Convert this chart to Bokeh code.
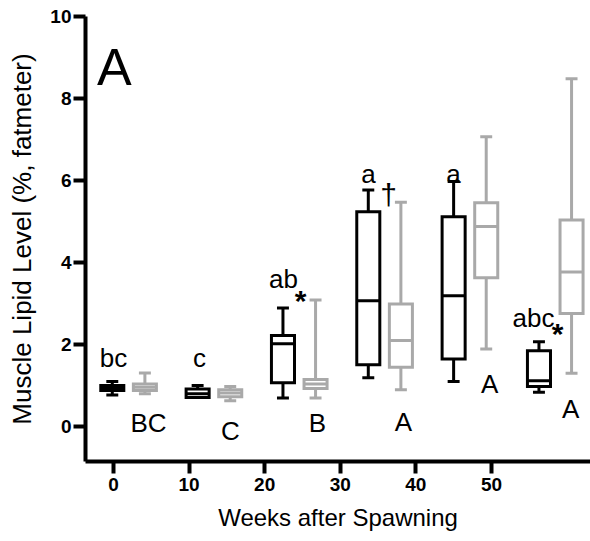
from bokeh.plotting import figure
from bokeh.models import Range1d, FixedTicker, Label, ColumnDataSource
from bokeh.core.properties import value
from bokeh.embed import file_html
from bokeh.resources import INLINE

# Muscle lipid level (%, fatmeter) by weeks after spawning
weeks = [0, 10, 20, 30, 40, 50]

# first series (black boxes): whisker low, Q1, median, Q3, whisker high
black_lo = [0.77, 0.71, 0.70, 1.19, 1.10, 0.84]
black_q1 = [0.88, 0.71, 1.07, 1.51, 1.65, 0.98]
black_med = [0.93, 0.80, 2.02, 3.07, 3.19, 1.12]
black_q3 = [1.00, 0.92, 2.22, 5.24, 5.12, 1.85]
black_hi = [1.10, 1.00, 2.89, 5.77, 5.98, 2.07]

# second series (grey boxes)
grey_lo = [0.80, 0.63, 0.70, 0.90, 1.89, 1.30]
grey_q1 = [0.88, 0.73, 0.93, 1.45, 3.63, 2.76]
grey_med = [0.96, 0.82, 1.04, 2.10, 4.88, 3.77]
grey_q3 = [1.04, 0.90, 1.15, 2.99, 5.46, 5.04]
grey_hi = [1.31, 0.98, 3.09, 5.47, 7.07, 8.48]

# significance letters: text, group position, baseline height
letter_text = ["bc", "BC", "c", "C", "ab", "B", "a", "A", "a", "A", "abc", "A"]
letter_x = [-0.177, 0.233, 0.831, 1.194, 1.815, 2.214, 2.811, 3.22, 3.808, 4.23, 4.746, 5.18]
letter_y = [1.68, 0.10, 1.68, -0.10, 3.61, 0.10, 6.17, 0.12, 6.17, 1.05, 2.66, 0.44]

# between-series marks
star_x = [2.015, 5.026]
star_y = [3.08, 2.27]
dagger_x = [3.046]
dagger_y = [5.65]

BLACK = "#000000"
GREY = "#a9a9a9"
FONT = "Liberation Sans"

p = figure(width=590, height=541,
           x_range=Range1d(-3.7, 63.1), y_range=Range1d(-0.85, 10),
           output_backend="svg", toolbar_location=None,
           min_border_left=85, min_border_right=0,
           min_border_top=16, min_border_bottom=80)
p.extra_x_ranges = {"grp": Range1d(-0.505, 5.413)}

p.grid.visible = False
p.outline_line_color = None
p.background_fill_color = "white"
p.border_fill_color = "white"

for ax in (p.xaxis[0], p.yaxis[0]):
    ax.axis_line_width = 4
    ax.axis_line_color = BLACK
    ax.major_tick_line_width = 4
    ax.major_tick_line_color = BLACK
    ax.major_tick_out = 12
    ax.major_tick_in = 0
    ax.minor_tick_line_color = None
    ax.major_label_text_font = FONT
    ax.major_label_text_font_style = "bold"
    ax.major_label_text_font_size = "19px"
    ax.major_label_text_color = BLACK
    ax.axis_label_text_font = FONT
    ax.axis_label_text_font_style = "normal"
    ax.axis_label_text_color = BLACK

p.xaxis.ticker = FixedTicker(ticks=weeks)
p.yaxis.ticker = FixedTicker(ticks=[0, 2, 4, 6, 8, 10])
p.xaxis.axis_label = "Weeks after Spawning"
p.yaxis.axis_label = "Muscle Lipid Level (%, fatmeter)"
p.xaxis.axis_label_text_font_size = "24px"
p.yaxis.axis_label_text_font_size = "26px"
p.xaxis.major_label_standoff = 4
p.xaxis.axis_label_standoff = 10
p.yaxis.major_label_standoff = 2
p.yaxis.axis_label_standoff = 10

BOX_W = 0.27
CAP_W = 0.14
OFFSET = 0.191


def draw_boxes(offset, lo, q1, med, q3, hi, color):
    xs = [i + offset for i in range(len(weeks))]
    src = ColumnDataSource(dict(
        x=xs,
        bl=[x - BOX_W / 2 for x in xs], br=[x + BOX_W / 2 for x in xs],
        cl=[x - CAP_W / 2 for x in xs], cr=[x + CAP_W / 2 for x in xs],
        lo=lo, q1=q1, med=med, q3=q3, hi=hi))
    kw = dict(source=src, x_range_name="grp", line_color=color, line_width=3)
    p.segment(x0="x", y0="q3", x1="x", y1="hi", **kw)
    p.segment(x0="x", y0="q1", x1="x", y1="lo", **kw)
    p.segment(x0="cl", y0="hi", x1="cr", y1="hi", **kw)
    p.segment(x0="cl", y0="lo", x1="cr", y1="lo", **kw)
    p.quad(left="bl", right="br", bottom="q1", top="q3", fill_color="white",
           line_join="miter", **kw)
    p.segment(x0="bl", y0="med", x1="br", y1="med", **kw)


draw_boxes(-OFFSET, black_lo, black_q1, black_med, black_q3, black_hi, BLACK)
draw_boxes(OFFSET, grey_lo, grey_q1, grey_med, grey_q3, grey_hi, GREY)

letter_src = ColumnDataSource(dict(x=letter_x, y=letter_y, t=letter_text))
p.text(x="x", y="y", text="t", source=letter_src, x_range_name="grp",
       text_font=value(FONT), text_font_size="26px", text_color=BLACK,
       text_align="center", text_baseline="alphabetic")

star_src = ColumnDataSource(dict(x=star_x, y=star_y, t=["*"] * len(star_x)))
p.text(x="x", y="y", text="t", source=star_src, x_range_name="grp",
       text_font=value(FONT), text_font_size="30px", text_font_style="bold",
       text_color=BLACK, text_align="center", text_baseline="alphabetic")

dagger_src = ColumnDataSource(dict(x=dagger_x, y=dagger_y, t=["\u2020"] * len(dagger_x)))
p.text(x="x", y="y", text="t", source=dagger_src, x_range_name="grp",
       text_font=value(FONT), text_font_size="30px",
       text_color=BLACK, text_align="center", text_baseline="alphabetic")

p.add_layout(Label(x=0.1, y=8.76, text="A", text_font=FONT,
                   text_font_size="52px", text_align="center",
                   text_baseline="alphabetic", text_color=BLACK))

open("out.html", "w").write(file_html(p, INLINE))
